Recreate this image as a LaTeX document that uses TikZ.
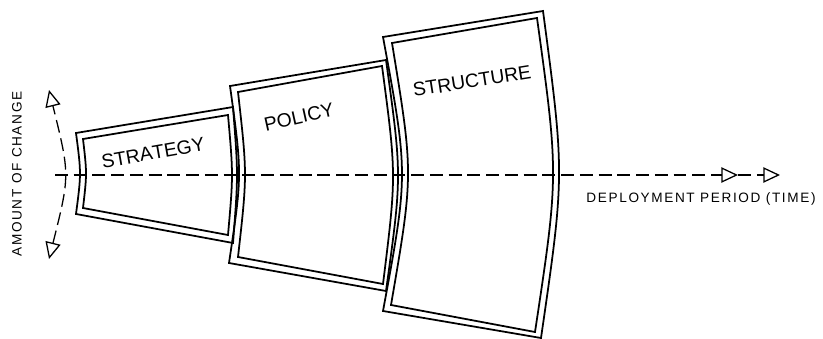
\documentclass[tikz,border=0pt]{standalone}
\usepackage{fontspec}
\usepackage{tikz}
\usetikzlibrary{arrows.meta}
\newfontfamily\plotfont[Kerning=Off]{Liberation Sans}
\newfontfamily\plotwide[LetterSpace=12]{Liberation Sans}

\begin{document}
\begin{tikzpicture}[
			x=0.03cm,
			y=-0.03cm,
			wall/.style={
					line width=1.5pt,
					line join=miter
				},
			stagename/.style={
					inner sep=0pt,
					font=\plotfont\fontsize{16.5}{19}\selectfont
				},
			axisname/.style={
					inner sep=0pt,
					font=\plotwide\fontsize{11.6}{14}\selectfont
				},
			axisline/.style={
					line width=1.1pt,
					dash pattern=on 11pt off 5pt
				},
			axisarrow/.style={
			axisline,
			-{Triangle[open,length=5mm,width=4.6mm,line width=1.1pt]}
			}
			]

			\useasboundingbox (0,0) rectangle (823,338);

			% ================= strategy panel =================
			\draw[wall] (76,133) -- (233,107) .. controls (238.3,175) .. (233,243)
			-- (76,214) .. controls (81.3,173.5) .. cycle;
			\draw[wall] (83,139) -- (228,115) .. controls (233.3,175) .. (228,235)
			-- (83,208) .. controls (87,173.5) .. cycle;

			% ================= policy panel =================
			\draw[wall] (230,86) -- (386,60) .. controls (402,175.5) .. (386,291)
			-- (229,263) .. controls (242.2,174.5) .. cycle;
			\draw[wall] (238,92) -- (382,66) .. controls (396.5,175) .. (383,284)
			-- (238,257) .. controls (247.3,174.5) .. cycle;

			% ================= structure panel =================
			\draw[wall] (383,37) -- (543,11) .. controls (564.7,174.5) .. (541,338)
			-- (383,311) .. controls (408.3,174) .. cycle;
			\draw[wall] (392,43) -- (537,18) .. controls (558.7,175) .. (535,332)
			-- (391,305) .. controls (413.5,174) .. cycle;

			% panel names, tilted along the top edges
			\node[stagename, rotate=10]   (strategy)  at (153,153) {STRATEGY};
			\node[stagename, rotate=12.5] (policy)    at (299,117) {POLICY};
			\node[stagename, rotate=9]    (structure) at (472,81)  {STRUCTURE};

			% ================= time axis =================
			\coordinate (tstart) at (55,175);
			\coordinate (tmid)   at (738,175);
			\coordinate (tend)   at (780,175);
			\draw[axisarrow] (tstart) -- (tmid);
			\draw[axisarrow] (tmid) -- (tend);
			\node[axisname] (period) at (701,199) {DEPLOYMENT PERIOD (TIME)};

			% ================= change axis (arc, both ways) =================
			\coordinate (clow)  at (49,259);
			\coordinate (chigh) at (49,90);
			\draw[axisline,
				{Triangle[open,length=5mm,width=4.6mm,line width=1.1pt]}-{Triangle[open,length=5mm,width=4.6mm,line width=1.1pt]}]
			(clow) .. controls (70,175) .. (chigh);
			\node[axisname, rotate=90] (amount) at (17,174) {AMOUNT OF CHANGE};

		\end{tikzpicture}
\end{document}
